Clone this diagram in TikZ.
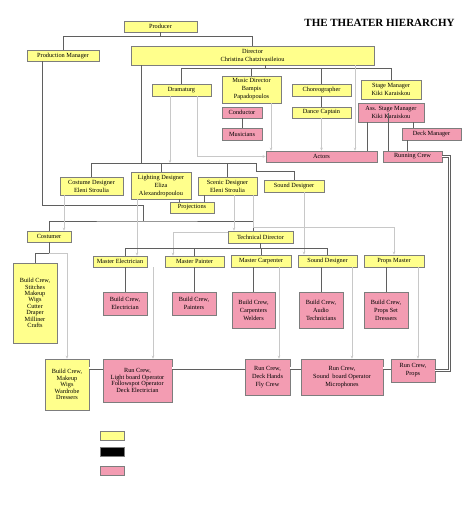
\documentclass[tikz,border=0pt]{standalone}
\usepackage{fontspec}
\setmainfont{Liberation Serif}
\usetikzlibrary{arrows.meta}

\definecolor{roleyellow}{RGB}{255,255,140}
\definecolor{crewpink}{RGB}{243,156,178}
\definecolor{boxedge}{RGB}{125,125,125}
\definecolor{linkdark}{RGB}{95,95,95}
\definecolor{linklight}{RGB}{200,200,200}

\tikzset{
  role/.style={rectangle, draw=boxedge, line width=0.6pt, fill=roleyellow, align=center, inner sep=0pt, font=\fontsize{6.3}{8}\selectfont},
  crew/.style={role, fill=crewpink},
  dense/.style={font=\fontsize{6.3}{6.4}\selectfont},
  link/.style={draw=linkdark, line width=0.8pt},
  hint/.style={draw=linklight, line width=0.6pt, -{Stealth[length=3pt,width=2.6pt]}},
  chain/.style={draw=linkdark, line width=0.8pt, double=white, double distance=1.4pt}
}

\begin{document}
\begin{tikzpicture}[x=1pt, y=-1pt]
\useasboundingbox (0,0) rectangle (474,507);

\node (title) [font=\fontsize{11}{13}\selectfont\bfseries, inner sep=0pt] at (379.5,23) {THE THEATER HIERARCHY};

\node (producer) [role, minimum width=73pt, minimum height=11pt] at (160.5,26.5) {Producer};
\node (prodmgr) [role, minimum width=72pt, minimum height=11pt] at (63,55.5) {Production Manager};
\node (director) [role, minimum width=243pt, minimum height=19pt] at (252.5,55.5) {Director\\Christina Chatzivasileiou};

\node (dramaturg) [role, minimum width=59pt, minimum height=12pt] at (181.5,90) {Dramaturg};
\node (musicdir) [role, minimum width=59pt, minimum height=27pt] at (251.5,89.5) {Music Director\\Bampis\\Papadopoulos};
\node (conductor) [crew, minimum width=40pt, minimum height=11pt] at (242,112.5) {Conductor};
\node (musicians) [crew, minimum width=40pt, minimum height=12pt] at (242,134) {Musicians};
\node (choreo) [role, minimum width=59pt, minimum height=12pt] at (321.5,90) {Choreographer};
\node (dancecapt) [role, minimum width=59pt, minimum height=11pt] at (321.5,112.5) {Dance Captain};
\node (stagemgr) [role, minimum width=60pt, minimum height=19pt] at (391,89.5) {Stage Manager\\Kiki Karaiskou};
\node (asstsm) [crew, minimum width=66pt, minimum height=19pt] at (391,112.5) {Ass. Stage Manager\\Kiki Karaiskou};
\node (deckmgr) [crew, minimum width=59pt, minimum height=12pt] at (431.5,134) {Deck Manager};
\node (actors) [crew, minimum width=111pt, minimum height=11pt] at (321.5,156.5) {Actors};
\node (runcrew) [crew, minimum width=59pt, minimum height=11pt] at (412.5,156.5) {Running Crew};

\node (costdes) [role, minimum width=63pt, minimum height=18pt] at (91.5,186) {Costume Designer\\Eleni Stroulia};
\node (lightdes) [role, minimum width=60pt, minimum height=27pt] at (161,185.5) {Lighting Designer\\Eliza\\Alexandropoulou};
\node (projections) [role, minimum width=44pt, minimum height=11pt] at (192,207.5) {Projections};
\node (scenicdes) [role, minimum width=59pt, minimum height=18pt] at (227.5,186) {Scenic Designer\\Eleni Stroulia};
\node (sounddes) [role, minimum width=60pt, minimum height=12pt] at (294,186) {Sound Designer};

\node (costumer) [role, minimum width=44pt, minimum height=11pt] at (49,236.5) {Costumer};
\node (techdir) [role, minimum width=65pt, minimum height=12pt] at (260.5,237) {Technical Director};

\node (masterelec) [role, minimum width=54pt, minimum height=11pt] at (120,261.5) {Master Electrician};
\node (masterpaint) [role, minimum width=59pt, minimum height=11pt] at (194.5,261.5) {Master Painter};
\node (mastercarp) [role, minimum width=60pt, minimum height=12pt] at (261,261) {Master Carpenter};
\node (soundeng) [role, minimum width=59pt, minimum height=12pt] at (327.5,261) {Sound Designer};
\node (propsmaster) [role, minimum width=60pt, minimum height=12pt] at (394,261) {Props Master};

\node (bcstitch) [role, dense, minimum width=44pt, minimum height=80pt] at (35,303) {Build Crew,\\Stitches\\Makeup\\Wigs\\Cutter\\Draper\\Milliner\\Crafts};
\node (bcelec) [crew, minimum width=44pt, minimum height=23pt] at (125,303.5) {Build Crew,\\Electrician};
\node (bcpaint) [crew, minimum width=44pt, minimum height=23pt] at (194,303.5) {Build Crew,\\Painters};
\node (bccarp) [crew, minimum width=43pt, minimum height=36pt] at (253.5,310) {Build Crew,\\Carpenters\\Welders};
\node (bcaudio) [crew, minimum width=44pt, minimum height=36pt] at (321,310) {Build Crew,\\Audio\\Technicians};
\node (bcprops) [crew, minimum width=44pt, minimum height=36pt] at (386,310) {Build Crew,\\Props Set\\Dressers};

\node (bcmakeup) [role, dense, minimum width=44pt, minimum height=51pt] at (67,384.5) {Build Crew,\\Makeup\\Wigs\\Wardrobe\\Dressers};
\node (rclight) [crew, dense, minimum width=69pt, minimum height=43pt] at (137.5,380.5) {Run Crew,\\Light board Operator\\Followspot Operator\\Deck Electrician};
\node (rcdeck) [crew, minimum width=45pt, minimum height=36pt] at (267.5,377) {Run Crew,\\Deck Hands\\Fly Crew};
\node (rcsound) [crew, minimum width=82pt, minimum height=36pt] at (342,377) {Run Crew,\\Sound~ board Operator\\Microphones};
\node (rcprops) [crew, minimum width=44pt, minimum height=23pt] at (413,370.5) {Run Crew,\\Props};

\coordinate (dirbus) at (265,68);
\coordinate (desbus) at (141,163);
\coordinate (desstep) at (256,163);
\coordinate (pmturn) at (143,205);
\coordinate (techbus) at (143,221);
\coordinate (mastbus) at (125,248);
\coordinate (chainy) at (0,368);
\coordinate (chainx) at (449.5,0);

% Producer and Director
\draw[link] (producer.south) -- ++(0,4) -| (prodmgr.north);
\draw[link] (producer.south) ++(0,4) -| (director.north);
\draw[link] (dirbus |- director.south) -- (dirbus);
\draw[link] (dramaturg.north) |- (stagemgr.north |- dirbus) -- (stagemgr.north);
\draw[link] (musicdir.north) -- (musicdir.north |- dirbus);
\draw[link] (choreo.north) -- (choreo.north |- dirbus);
\draw[link] (choreo) -- (dancecapt);
\draw[link] (conductor) -- (musicians);
\draw[link] ([xshift=-24pt]asstsm.south) -- ([xshift=-24pt]asstsm.south |- actors.north);
\draw[link] ([xshift=-3pt]asstsm.center) -- ([xshift=-3pt]asstsm.center |- runcrew.north);
\draw[link] ([xshift=22pt]asstsm.south) -- ([xshift=22pt]asstsm.south |- deckmgr.north);
\draw[link] ([xshift=-24.5pt]deckmgr.south) -- ([xshift=-24.5pt]deckmgr.south |- runcrew.north);

\draw[hint] (dancecapt) -- (actors);
\draw[hint] ([xshift=102.5pt]director.south) -- ([xshift=102.5pt]director.south |- actors.north);
\draw[hint] ([xshift=19.5pt]musicdir.south) -- ([xshift=19.5pt]musicdir.south |- actors.north);
\draw[hint] ([xshift=15.5pt]dramaturg.south) |- (actors.west);
\draw[hint] ([xshift=-11.5pt]dramaturg.south) -- ([xshift=-11.5pt]dramaturg.south |- desbus);

% Designers
\draw[link] (desbus |- director.south) -- (desbus);
\draw[link] (costdes.north) |- (desstep) -- ++(0,8) -| (sounddes.north);
\draw[link] (lightdes.north) -- (lightdes.north |- desbus);
\draw[link] (scenicdes.north) -- (scenicdes.north |- desbus);
\draw[link] ([xshift=18pt]lightdes.south) -- ([xshift=18pt]lightdes.south |- projections.north);
\draw[link] ([xshift=-23.5pt]scenicdes.south) -- ([xshift=-23.5pt]scenicdes.south |- projections.north);

\draw[link] ([xshift=-21pt]prodmgr.south) |- (pmturn) -- (techbus);
\draw[link] (costumer.north) |- (techbus) -| ([xshift=-7.5pt]techdir.north);
\draw[link] (costumer.south) -- ++(0,11) -| (bcstitch.north);

\draw[hint] ([xshift=-27.5pt]costdes.south) -- ([xshift=-27.5pt]costdes.south |- costumer.north);
\draw[hint] (costumer.south) ++(0,11) -| (bcmakeup.north);
\draw[hint] ([xshift=-24pt]lightdes.south) -- ([xshift=-24pt]lightdes.south |- masterelec.north);
\draw[hint] ([xshift=6.5pt]scenicdes.south) -- ([xshift=6.5pt]scenicdes.south |- techdir.north);
\draw[hint] ([xshift=25.5pt]scenicdes.south) -- ++(0,32) -| (propsmaster.north);
\draw[hint] ([xshift=10pt]sounddes.south) -- ([xshift=10pt]sounddes.south |- soundeng.north);
\draw[hint] ([yshift=5pt]techdir.west) -| ([xshift=-21.5pt]masterpaint.north);

% Masters and crews
\draw[link] (techdir.south) -- (techdir.south |- mastbus);
\draw[link] ([xshift=5pt]masterelec.north) |- (mastbus) -| (soundeng.north);
\draw[link] (masterpaint.north) -- (masterpaint.north |- mastbus);
\draw[link] (mastercarp.north) -- (mastercarp.north |- mastbus);

\draw[link] (bcelec.north |- masterelec.south) -- (bcelec.north);
\draw[link] (bcpaint.north |- masterpaint.south) -- (bcpaint.north);
\draw[link] (bccarp.north |- mastercarp.south) -- (bccarp.north);
\draw[link] (bcaudio.north |- soundeng.south) -- (bcaudio.north);
\draw[link] (bcprops.north |- propsmaster.south) -- (bcprops.north);

\draw[hint] ([xshift=33pt]masterelec.south) -- ([xshift=33pt]masterelec.south |- rclight.north);
\draw[hint] ([xshift=18pt]mastercarp.south) -- ([xshift=18pt]mastercarp.south |- rcdeck.north);
\draw[hint] ([xshift=24.5pt]soundeng.south) -- ([xshift=24.5pt]soundeng.south |- rcsound.north);
\draw[hint] ([xshift=24pt]propsmaster.south) -- ([xshift=24pt]propsmaster.south |- rcprops.north);

\draw[chain] (bcmakeup.east |- chainy) -- (rclight.west |- chainy);
\draw[chain] (rclight.east |- chainy) -- (rcdeck.west |- chainy);
\draw[chain] (rcdeck.east |- chainy) -- (rcsound.west |- chainy);
\draw[chain] (rcsound.east |- chainy) -- (rcprops.west |- chainy);
\draw[chain] (runcrew.east) -- (chainx |- runcrew.east) -- (chainx |- rcprops.east) -- (rcprops.east);

% Legend
\node (legrole) [role, minimum width=24pt, minimum height=9pt] at (112,435.5) {};
\node (legblack) [rectangle, draw=boxedge, fill=black, minimum width=24pt, minimum height=9pt] at (112,451.5) {};
\node (legcrew) [crew, minimum width=24pt, minimum height=9pt] at (112,470.5) {};

\end{tikzpicture}
\end{document}
